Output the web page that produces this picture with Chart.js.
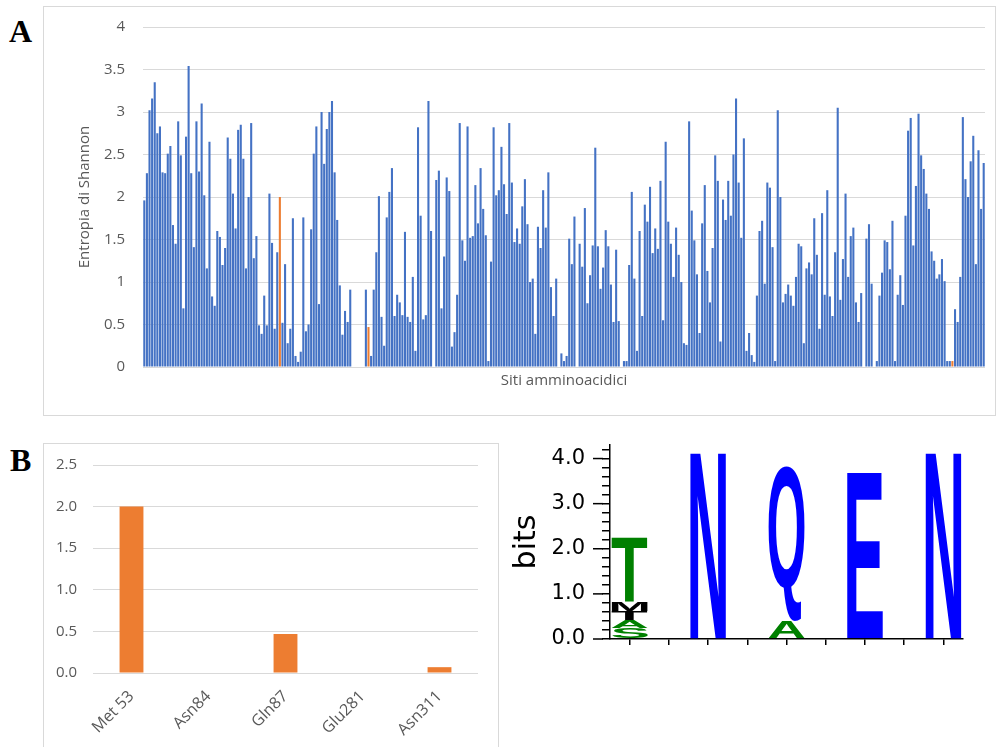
<!DOCTYPE html>
<html>
<head>
<meta charset="utf-8">
<script src="https://cdn.jsdelivr.net/npm/chart.js@4.4.0/dist/chart.umd.min.js"></script>
<style>
  body { margin: 0; background: #fff; width: 999px; height: 747px; overflow: hidden; position: relative; }
  .box { position: absolute; border: 1px solid #d9d9d9; background: #fff; }
  .lbl { position: absolute; font: bold 32px "Liberation Serif", "DejaVu Serif", serif; line-height: 1; color: #000; }
  canvas { position: absolute; }
</style>
</head>
<body>
<div class="lbl" style="left:9px; top:15px;">A</div>
<div class="box" style="left:43px; top:6px; width:951px; height:408px;"></div>
<canvas id="chartA" width="950" height="407" style="left:44px; top:7px;"></canvas>

<div class="lbl" style="left:10px; top:444px;">B</div>
<div class="box" style="left:43px; top:443px; width:454px; height:320px;"></div>
<canvas id="chartB" width="453" height="303" style="left:44px; top:444px;"></canvas>

<canvas id="logo" width="499" height="215" style="left:500px; top:440px;"></canvas>

<script>
// --- panel A: entropia per sito (1..323)
var entropy = [
  1.96, 2.28, 3.02, 3.16, 3.35, 2.75, 2.83, 2.29, 2.28, 2.51,
  2.6, 1.67, 1.45, 2.89, 2.49, 0.69, 2.71, 3.54, 2.28, 1.41,
  2.89, 2.3, 3.1, 2.02, 1.16, 2.65, 0.83, 0.72, 1.6, 1.53,
  1.2, 1.4, 2.7, 2.45, 2.04, 1.63, 2.79, 2.85, 2.45, 1.16,
  2.0, 2.87, 1.28, 1.54, 0.49, 0.39, 0.84, 0.49, 2.04, 1.46,
  0.45, 1.35, 2.0, 0.52, 1.21, 0.28, 0.45, 1.75, 0.13, 0.06,
  0.18, 1.76, 0.42, 0.5, 1.62, 2.51, 2.83, 0.74, 3.0, 2.39,
  2.8, 3.0, 3.13, 2.29, 1.73, 0.96, 0.38, 0.66, 0.53, 0.91,
  0, 0, 0, 0, 0, 0.91, 0.47, 0.13, 0.91, 1.35,
  2.01, 0.59, 0.25, 1.76, 2.06, 2.34, 0.6, 0.85, 0.76, 0.61,
  1.59, 0.59, 0.53, 1.06, 0.19, 2.82, 1.78, 0.56, 0.61, 3.13,
  1.6, 0, 2.2, 2.31, 0.69, 1.3, 2.23, 2.07, 0.24, 0.41,
  0.85, 2.87, 1.49, 1.25, 2.83, 1.52, 1.54, 2.14, 1.69, 2.34,
  1.86, 1.55, 0.07, 1.24, 2.82, 2.02, 2.08, 2.59, 2.15, 1.8,
  2.87, 2.17, 1.47, 1.63, 1.45, 1.89, 2.21, 1.68, 1.0, 1.04,
  0.39, 1.65, 1.4, 2.08, 1.64, 2.29, 0.94, 0.6, 1.04, 0,
  0.16, 0.07, 0.13, 1.51, 1.21, 1.77, 0, 1.45, 1.18, 1.87,
  0.75, 1.08, 1.43, 2.58, 1.42, 0.92, 1.17, 1.61, 1.42, 0.97,
  0.53, 1.38, 0.54, 0, 0.07, 0.07, 1.2, 2.06, 1.04, 0.19,
  1.6, 0.6, 1.91, 1.71, 2.12, 1.34, 1.63, 1.39, 2.19, 0.55,
  2.65, 1.71, 1.45, 1.06, 1.64, 1.32, 1.0, 0.28, 0.26, 2.89,
  1.84, 1.49, 1.09, 0.4, 1.69, 2.14, 1.13, 0.76, 1.4, 2.49,
  2.19, 0.3, 1.97, 1.73, 2.19, 1.78, 2.5, 3.16, 2.17, 1.52,
  2.69, 0.19, 0.4, 0.14, 0.06, 0.84, 1.6, 1.72, 0.98, 2.17,
  2.11, 1.41, 0.07, 3.02, 2.0, 0.76, 0.86, 0.97, 0.84, 0.72,
  1.06, 1.45, 1.42, 0.28, 1.16, 1.23, 1.09, 1.75, 1.32, 0.45,
  1.81, 0.85, 2.08, 0.83, 0.6, 1.35, 3.05, 0.79, 1.27, 2.04,
  1.06, 1.54, 1.64, 0.76, 0.53, 0.87, 0, 1.51, 1.68, 0.98,
  0, 0.07, 0.84, 1.11, 1.49, 1.47, 1.15, 1.72, 0.07, 0.85,
  1.08, 0.73, 1.78, 2.78, 2.93, 1.43, 2.13, 2.98, 2.49, 2.33,
  2.04, 1.86, 1.36, 1.25, 1.04, 1.09, 1.27, 1.01, 0.07, 0.07,
  0.07, 0.68, 0.53, 1.06, 2.94, 2.21, 2.0, 2.42, 2.72, 1.21,
  2.55, 1.86, 2.4
];
var sites = [];
for (var i = 1; i <= entropy.length; i++) sites.push(i);
var highlightSites = [53, 84, 87, 281, 311];

// --- panel B
var bLabels = ['Met 53', 'Asn84', 'Gln87', 'Glu281', 'Asn311'];
var bValues = [2.0, 0, 0.47, 0, 0.07];

// --- logo: 9 colonne (lettere sulle dispari), strati dal basso
var logoCols = ['1', '', '2', '', '3', '', '4', '', '5'];
var layer1Letters = ['S', '', 'N', '', 'A', '', 'E', '', 'N'];
var layer1Bits    = [0.25, 0, 4.18, 0, 0.38, 0, 3.69, 0, 4.18];
var layer2Letters = ['A', '', '', '', 'Q', '', '', '', ''];
var layer2Bits    = [0.17, 0, 0, 0, 3.44, 0, 0, 0, 0];
var layer3Letters = ['T', '', '', '', '', '', '', '', ''];
var layer3Bits    = [0.2, 0, 0, 0, 0, 0, 0, 0, 0];
var layer4Letters = ['M', '', '', '', '', '', '', '', ''];
var layer4Bits    = [0.2, 0, 0, 0, 0, 0, 0, 0, 0];
var layer5Letters = ['T', '', '', '', '', '', '', '', ''];
var layer5Bits    = [1.45, 0, 0, 0, 0, 0, 0, 0, 0];

var blue = '#4472C4';
var orange = '#ED7D31';
var gray = '#595959';
var gridGray = '#d9d9d9';
var uiFont = '"Open Sans", "Noto Sans", sans-serif';

function noPad(s) { s.paddingTop = 0; s.paddingBottom = 0; s.paddingLeft = 0; s.paddingRight = 0; }

new Chart(document.getElementById('chartA'), {
  type: 'bar',
  data: {
    labels: sites,
    datasets: [{
      data: entropy,
      backgroundColor: function(c) {
        return highlightSites.indexOf(c.index + 1) >= 0 ? orange : blue;
      },
      barPercentage: 0.8,
      categoryPercentage: 1
    }]
  },
  options: {
    responsive: false,
    animation: false,
    layout: { padding: { top: 20, right: 9, left: 0, bottom: 0 } },
    plugins: { legend: { display: false }, tooltip: { enabled: false } },
    scales: {
      x: {
        grid: { display: false },
        border: { display: false },
        ticks: { display: false },
        title: { display: true, text: 'Siti amminoacidici', color: gray,
                 font: { family: uiFont, size: 15 }, padding: { top: 0, bottom: 24 } },
        afterFit: function(s) { s.height = 47; noPad(s); }
      },
      y: {
        min: 0, max: 4,
        ticks: { stepSize: 0.5, color: gray, font: { family: uiFont, size: 15 }, padding: 18,
                 callback: function(v) { return String(v); } },
        grid: { color: gridGray, lineWidth: 1, drawTicks: false },
        border: { display: false },
        title: { display: true, text: 'Entropia di Shannon', color: gray,
                 font: { family: uiFont, size: 15 }, padding: { top: 32, bottom: 0 } },
        afterFit: function(s) { s.width = 99; noPad(s); }
      }
    }
  }
});

new Chart(document.getElementById('chartB'), {
  type: 'bar',
  data: {
    labels: bLabels,
    datasets: [{ data: bValues, backgroundColor: orange, barPercentage: 0.31, categoryPercentage: 1 }]
  },
  options: {
    responsive: false,
    animation: false,
    layout: { padding: { top: 21, right: 19, left: 0, bottom: 0 } },
    plugins: { legend: { display: false }, tooltip: { enabled: false } },
    scales: {
      x: {
        grid: { display: false },
        border: { display: false },
        ticks: { color: gray, font: { family: uiFont, size: 16 }, minRotation: 45, maxRotation: 45, padding: 6 },
        afterFit: function(s) { s.height = 74; noPad(s); }
      },
      y: {
        min: 0, max: 2.5,
        ticks: { stepSize: 0.5, color: gray, font: { family: uiFont, size: 15 }, padding: 16,
                 callback: function(v) { return v.toFixed(1); } },
        grid: { color: gridGray, drawTicks: false },
        border: { display: false },
        afterFit: function(s) { s.width = 49; noPad(s); }
      }
    }
  }
});

// lettere stirate dentro ogni barra
var letterColors = { N: '#0000ff', Q: '#0000ff', E: '#0000ff', T: '#008000', A: '#008000', S: '#008000', M: '#000000' };
var logoLetters = [layer1Letters, layer2Letters, layer3Letters, layer4Letters, layer5Letters];

var letterPlugin = {
  id: 'letters',
  afterDatasetsDraw: function(chart) {
    var ctx = chart.ctx;
    ctx.save();
    ctx.font = 'bold 100px "Liberation Sans", Arial, sans-serif';
    ctx.textAlign = 'left';
    ctx.textBaseline = 'alphabetic';
    chart.data.datasets.forEach(function(ds, di) {
      var meta = chart.getDatasetMeta(di);
      meta.data.forEach(function(el, idx) {
        var ch = logoLetters[di][idx];
        if (!ch) return;
        var p = el.getProps(['x', 'y', 'base', 'width'], true);
        var h = p.base - p.y;
        if (h <= 0) return;
        var m = ctx.measureText(ch);
        var gw = m.actualBoundingBoxLeft + m.actualBoundingBoxRight;
        var gh = m.actualBoundingBoxAscent + m.actualBoundingBoxDescent;
        var col = letterColors[ch];
        if (di === 2) col = '#000000';
        ctx.save();
        ctx.translate(p.x - p.width / 2, p.y);
        ctx.scale(p.width / gw, h / gh);
        ctx.fillStyle = col;
        ctx.fillText(ch, m.actualBoundingBoxLeft, m.actualBoundingBoxAscent);
        ctx.restore();
      });
    });
    ctx.restore();
  },
  afterDraw: function(chart) {
    // tacche maggiori più lunghe sugli interi
    var y = chart.scales.y;
    var ctx = chart.ctx;
    ctx.save();
    ctx.strokeStyle = '#000';
    ctx.lineWidth = 1.5;
    for (var v = 0; v <= 4; v++) {
      var py = y.getPixelForValue(v);
      ctx.beginPath();
      ctx.moveTo(y.right - 17, py);
      ctx.lineTo(y.right - 7, py);
      ctx.stroke();
    }
    ctx.restore();
  }
};

function layer(bits) {
  return { data: bits, backgroundColor: 'rgba(0,0,0,0)', barPercentage: 0.92, categoryPercentage: 1 };
}

new Chart(document.getElementById('logo'), {
  type: 'bar',
  data: {
    labels: logoCols,
    datasets: [layer(layer1Bits), layer(layer2Bits), layer(layer3Bits), layer(layer4Bits), layer(layer5Bits)]
  },
  plugins: [letterPlugin],
  options: {
    responsive: false,
    animation: false,
    layout: { padding: { top: 5, right: 36, left: 0, bottom: 0 } },
    plugins: { legend: { display: false }, tooltip: { enabled: false } },
    scales: {
      x: {
        stacked: true,
        offset: true,
        grid: { display: true, drawOnChartArea: false, offset: false, tickLength: 6, color: '#000', lineWidth: 1.5 },
        border: { color: '#000', width: 1.5 },
        ticks: { display: false },
        afterFit: function(s) { s.height = 16; noPad(s); }
      },
      y: {
        stacked: true,
        min: 0, max: 4.3,
        afterBuildTicks: function(s) {
          var t = [];
          for (var k = 0; k <= 21; k++) t.push({ value: k / 5 });
          s.ticks = t;
        },
        ticks: {
          autoSkip: false, color: '#000', padding: 17,
          font: { family: '"DejaVu Sans", sans-serif', size: 21 },
          callback: function(v) { return Math.abs(v - Math.round(v)) < 1e-6 ? v.toFixed(1) : ''; }
        },
        grid: { display: true, drawOnChartArea: false, tickLength: 8, color: '#000', lineWidth: 1.5 },
        border: { color: '#000', width: 1.5 },
        title: { display: true, text: 'bits', color: '#000',
                 font: { family: '"DejaVu Sans", sans-serif', size: 30 }, padding: { top: 9, bottom: 0 } },
        afterFit: function(s) { s.width = 110; noPad(s); }
      }
    }
  }
});
</script>
</body>
</html>
